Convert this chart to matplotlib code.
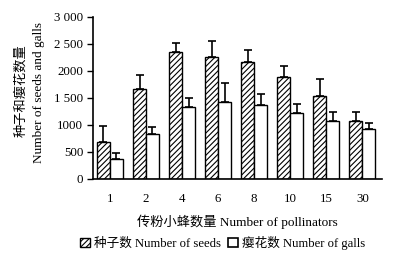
import matplotlib

matplotlib.use("Agg")
import matplotlib.pyplot as plt
import numpy as np
from matplotlib.patches import Patch

FONTS = ["Liberation Serif", "Noto Sans CJK SC"]
plt.rcParams.update({
    "font.family": FONTS,
    "font.size": 9.5,
    "hatch.linewidth": 0.8,
})

pollinators = ["1", "2", "4", "6", "8", "10", "15", "30"]
seeds = [690, 1660, 2345, 2255, 2160, 1890, 1545, 1070]
seeds_err = [290, 260, 175, 305, 235, 205, 300, 170]
galls = [365, 825, 1335, 1425, 1365, 1225, 1075, 925]
galls_err = [110, 145, 160, 355, 215, 170, 170, 105]

yticks = [0, 500, 1000, 1500, 2000, 2500, 3000]
ytick_labels = ["0", "500", "1000", "1 500", "2000", "2 500", "3 000"]

fig = plt.figure(figsize=(3.94, 2.64), dpi=100)
ax = fig.add_axes([0.236, 0.322, 0.734, 0.614])

x = np.arange(len(pollinators))
w = 0.36
err_kw = dict(ecolor="black", elinewidth=1.2, capsize=3, capthick=1.2)
ax.bar(x - w / 2, seeds, w, color="white", edgecolor="black", hatch="//////",
       linewidth=1.0, yerr=[np.zeros(len(seeds)), seeds_err], error_kw=err_kw)
ax.bar(x + w / 2, galls, w, color="white", edgecolor="black",
       linewidth=1.0, yerr=[np.zeros(len(galls)), galls_err], error_kw=err_kw)

ax.set_xlim(-0.47, 7.55)
ax.set_ylim(0, 3000)
ax.set_yticks(yticks)
ax.set_yticklabels(ytick_labels)
ax.set_xticks(x)
ax.set_xticklabels(pollinators)
ax.tick_params(axis="both", labelsize=9.3)
ax.tick_params(axis="x", length=0, pad=10)
ax.tick_params(axis="y", length=4, width=1, direction="out", pad=3)
for s in ("top", "right"):
    ax.spines[s].set_visible(False)
for s in ("left", "bottom"):
    ax.spines[s].set_linewidth(1.2)

fig.text(0.054, 0.655, "种子和瘿花数量", rotation=90, ha="center", va="center")
fig.text(0.100, 0.648, "Number of seeds and galls", rotation=90, ha="center", va="center")
fig.text(0.603, 0.158, "传粉小蜂数量 Number of pollinators", ha="center", va="center")

handles = [Patch(facecolor="white", edgecolor="black", hatch="//////", linewidth=1.0),
           Patch(facecolor="white", edgecolor="black", linewidth=1.2)]
fig.legend(handles, ["种子数 Number of seeds", "瘿花数 Number of galls"],
           loc="center", bbox_to_anchor=(0.565, 0.08), ncol=2, frameon=False,
           fontsize=9.1, handlelength=0.8, handleheight=0.8, handletextpad=0.3,
           columnspacing=0.6, borderaxespad=0)

fig.savefig("out.png", dpi=100, facecolor="white")
